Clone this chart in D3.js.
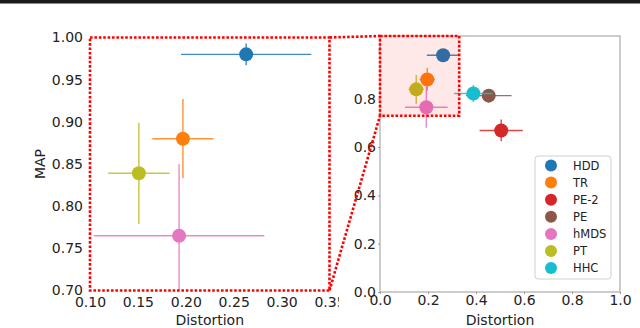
<!DOCTYPE html>
<html>
<head>
<meta charset="utf-8">
<script src="https://cdn.jsdelivr.net/npm/d3@7"></script>
<style>
  body { margin: 0; background: #fff; }
  svg text { font-family: "DejaVu Sans", sans-serif; fill: #222; }
</style>
</head>
<body>
<script>
// figure size
var w = 640;
var h = 328;

// data
var methods = ["HDD", "TR", "PE-2", "PE", "hMDS", "PT", "HHC"];
var colors = ["#1f77b4", "#ff7f0e", "#d62728", "#8c564b", "#e377c2", "#bcbd22", "#17becf"];
var distortion = [0.263, 0.197, 0.505, 0.453, 0.193, 0.151, 0.389];
var distortionErr = [0.068, 0.032, 0.09, 0.095, 0.089, 0.032, 0.08];
var mapScore = [0.980, 0.880, 0.669, 0.813, 0.765, 0.839, 0.822];
var mapErr = [0.013, 0.047, 0.045, 0.012, 0.085, 0.06, 0.035];
// methods shown in the zoomed inset
var zoomMethods = ["HDD", "TR", "hMDS", "PT"];

// ticks
var zoomXTicks = [0.10, 0.15, 0.20, 0.25, 0.30, 0.35];
var zoomYTicks = [0.70, 0.75, 0.80, 0.85, 0.90, 0.95, 1.00];
var fullXTicks = [0.0, 0.2, 0.4, 0.6, 0.8, 1.0];
var fullYTicks = [0.0, 0.2, 0.4, 0.6, 0.8, 1.0];

// limits
var zoomXDom = [0.10, 0.35];
var zoomYDom = [0.70, 1.00];
var fullXDom = [0, 1];
var fullYDom = [0, 1.06];
var boxX = [0, 0.33];
var boxY = [0.73, 1.06];

var data = methods.map(function(m, i) {
  return {name: m, color: colors[i], x: distortion[i], xe: distortionErr[i],
          y: mapScore[i], ye: mapErr[i]};
});
var zoomData = data.filter(function(d) { return zoomMethods.indexOf(d.name) >= 0; });

var svg = d3.select("body").append("svg")
            .attr("width", w)
            .attr("height", h);

// black strip at top edge
svg.append("rect").attr("x", 0).attr("y", 0).attr("width", w).attr("height", 3).attr("fill", "#1a1a1a");
svg.append("rect").attr("x", 0).attr("y", 3).attr("width", w).attr("height", 1).attr("fill", "#888");

/**** left (zoomed) panel ****/
var xL = d3.scaleLinear().domain(zoomXDom).range([90, 329.5]);
var yL = d3.scaleLinear().domain(zoomYDom).range([290.5, 37.5]);

svg.append("defs").append("clipPath").attr("id", "clipL")
   .append("rect")
   .attr("x", xL(zoomXDom[0])).attr("y", yL(zoomYDom[1]))
   .attr("width", xL(zoomXDom[1]) - xL(zoomXDom[0]))
   .attr("height", yL(zoomYDom[0]) - yL(zoomYDom[1]));

var fmt2 = d3.format(".2f");
var xAxisL = d3.axisBottom(xL).tickValues(zoomXTicks).tickFormat(fmt2).tickSize(0).tickPadding(6.5);
var yAxisL = d3.axisLeft(yL).tickValues(zoomYTicks).tickFormat(fmt2).tickSize(0).tickPadding(7);

var gxL = svg.append("g").attr("transform", "translate(0," + yL(zoomYDom[0]) + ")").call(xAxisL);
var gyL = svg.append("g").attr("transform", "translate(" + xL(zoomXDom[0]) + ",0)").call(yAxisL);
[gxL, gyL].forEach(function(g) {
  g.select(".domain").remove();
  g.selectAll("text").style("font-size", "14px").attr("fill", "#222");
});

function drawPoints(g, rows, xs, ys, r) {
  var pts = g.selectAll("g.pt").data(rows).enter().append("g").attr("class", "pt");
  pts.append("line")
     .attr("x1", function(d) { return xs(d.x - d.xe); })
     .attr("x2", function(d) { return xs(d.x + d.xe); })
     .attr("y1", function(d) { return ys(d.y); })
     .attr("y2", function(d) { return ys(d.y); })
     .attr("stroke", function(d) { return d.color; })
     .attr("stroke-opacity", 0.85)
     .attr("stroke-width", 1.4);
  pts.append("line")
     .attr("x1", function(d) { return xs(d.x); })
     .attr("x2", function(d) { return xs(d.x); })
     .attr("y1", function(d) { return ys(d.y - d.ye); })
     .attr("y2", function(d) { return ys(d.y + d.ye); })
     .attr("stroke", function(d) { return d.color; })
     .attr("stroke-opacity", 0.85)
     .attr("stroke-width", 1.4);
  pts.append("circle")
     .attr("cx", function(d) { return xs(d.x); })
     .attr("cy", function(d) { return ys(d.y); })
     .attr("r", r)
     .attr("fill", function(d) { return d.color; });
}

var plotL = svg.append("g").attr("clip-path", "url(#clipL)");
drawPoints(plotL, zoomData, xL, yL, 7);

// axis titles
svg.append("text")
   .attr("transform", "translate(45," + ((yL(zoomYDom[0]) + yL(zoomYDom[1])) / 2) + ") rotate(-90)")
   .attr("text-anchor", "middle")
   .style("font-size", "14px")
   .text("MAP");
svg.append("text")
   .attr("x", (xL(zoomXDom[0]) + xL(zoomXDom[1])) / 2)
   .attr("y", 325)
   .attr("text-anchor", "middle")
   .style("font-size", "14px")
   .text("Distortion");

/**** right (full) panel ****/
var xR = d3.scaleLinear().domain(fullXDom).range([380, 620]);
var yR = d3.scaleLinear().domain(fullYDom).range([292, 36]);

// the right axes cover the overflow of the left labels
svg.append("rect").attr("x", 339).attr("y", 6).attr("width", w - 339).attr("height", h - 6).attr("fill", "#fff");

svg.select("defs").append("clipPath").attr("id", "clipR")
   .append("rect")
   .attr("x", xR(fullXDom[0])).attr("y", yR(fullYDom[1]))
   .attr("width", xR(fullXDom[1]) - xR(fullXDom[0]))
   .attr("height", yR(fullYDom[0]) - yR(fullYDom[1]));

var fmt1 = d3.format(".1f");
var xAxisR = d3.axisBottom(xR).tickValues(fullXTicks).tickFormat(fmt1).tickSize(2).tickPadding(1.5);
var yAxisR = d3.axisLeft(yR).tickValues(fullYTicks).tickFormat(function(d) { return d < 1 ? fmt1(d) : ""; })
               .tickSize(2).tickPadding(2);

var gxR = svg.append("g").attr("transform", "translate(0," + yR(0) + ")").call(xAxisR);
var gyR = svg.append("g").attr("transform", "translate(" + xR(0) + ",0)").call(yAxisR);
[gxR, gyR].forEach(function(g) {
  g.select(".domain").remove();
  g.selectAll(".tick line").attr("stroke", "#999");
  g.selectAll("text").style("font-size", "14px").attr("fill", "#222");
});

var plotR = svg.append("g").attr("clip-path", "url(#clipR)");
drawPoints(plotR, data, xR, yR, 7);

// highlighted zoom region
svg.append("rect")
   .attr("x", xR(boxX[0])).attr("y", yR(boxY[1]))
   .attr("width", xR(boxX[1]) - xR(boxX[0]))
   .attr("height", yR(boxY[0]) - yR(boxY[1]))
   .attr("fill", "red").attr("fill-opacity", 0.09);

// frame
svg.append("rect")
   .attr("x", xR(0)).attr("y", yR(fullYDom[1]))
   .attr("width", xR(1) - xR(0))
   .attr("height", yR(0) - yR(fullYDom[1]))
   .attr("fill", "none").attr("stroke", "#999").attr("stroke-width", 1);

svg.append("text")
   .attr("x", (xR(0) + xR(1)) / 2)
   .attr("y", 325)
   .attr("text-anchor", "middle")
   .style("font-size", "14px")
   .text("Distortion");

// legend
var leg = svg.append("g").attr("transform", "translate(535,156)");
leg.append("rect").attr("width", 76).attr("height", 123).attr("rx", 3)
   .attr("fill", "#fff").attr("fill-opacity", 0.8).attr("stroke", "#d0d0d0");
var items = leg.selectAll("g.item").data(data).enter().append("g")
   .attr("class", "item")
   .attr("transform", function(d, i) { return "translate(0," + (9.5 + i * 17.1) + ")"; });
items.append("circle").attr("cx", 16).attr("r", 6).attr("fill", function(d) { return d.color; });
items.append("text").attr("x", 38).attr("dy", "0.36em").style("font-size", "11.5px")
     .text(function(d) { return d.name; });

/**** red dotted zoom frames and connectors ****/
var dotted = {stroke: "red", "stroke-width": 2.6, "stroke-dasharray": "2.6,1.8", fill: "none"};
function applyDotted(sel) {
  Object.keys(dotted).forEach(function(k) { sel.attr(k, dotted[k]); });
  return sel;
}
applyDotted(svg.append("rect")
   .attr("x", xL(zoomXDom[0])).attr("y", yL(zoomYDom[1]))
   .attr("width", xL(zoomXDom[1]) - xL(zoomXDom[0]))
   .attr("height", yL(zoomYDom[0]) - yL(zoomYDom[1])));
applyDotted(svg.append("rect")
   .attr("x", xR(boxX[0])).attr("y", yR(boxY[1]))
   .attr("width", xR(boxX[1]) - xR(boxX[0]))
   .attr("height", yR(boxY[0]) - yR(boxY[1])));
applyDotted(svg.append("line")
   .attr("x1", xL(zoomXDom[1])).attr("y1", yL(zoomYDom[1]))
   .attr("x2", xR(boxX[0])).attr("y2", yR(boxY[1])));
applyDotted(svg.append("line")
   .attr("x1", xL(zoomXDom[1])).attr("y1", yL(zoomYDom[0]))
   .attr("x2", xR(boxX[0])).attr("y2", yR(boxY[0])));
</script>
</body>
</html>
